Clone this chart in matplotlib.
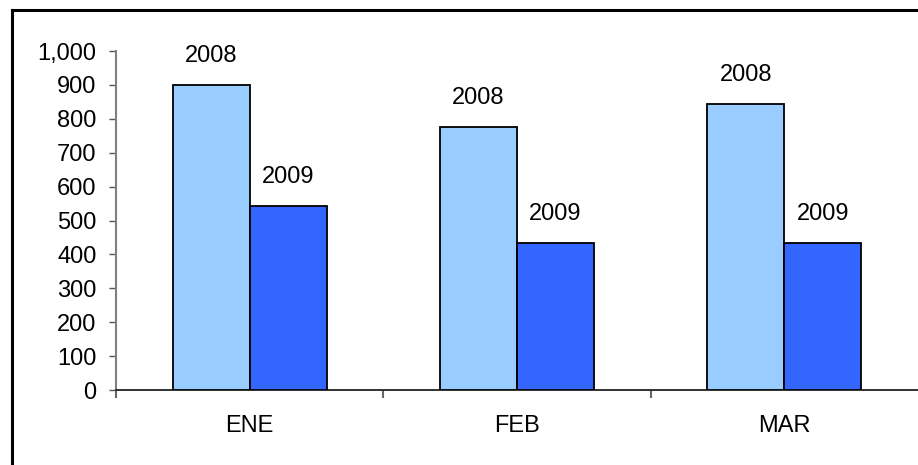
import matplotlib.pyplot as plt
import numpy as np
from matplotlib.lines import Line2D
from matplotlib.ticker import FuncFormatter

plt.rcParams['font.family'] = ['Liberation Sans', 'DejaVu Sans']

# datos
meses = ['ENE', 'FEB', 'MAR']
series = ['2008', '2009']
valores_2008 = [900, 775, 843]
valores_2009 = [543, 434, 434]

colores = {'2008': '#99CCFF', '2009': '#3366FF'}

# grafico
fig = plt.figure(figsize=(9.18, 4.65), dpi=100)
# el eje se prolonga un poco fuera del borde derecho (como en la imagen recortada)
ax = fig.add_axes([116 / 918, 1 - 390 / 465, (918 + 8 - 116) / 918, (390 - 51) / 465])
ax.patch.set_visible(False)

x = np.arange(len(meses))
ancho = 0.288

for i, (serie, vals) in enumerate(zip(series, [valores_2008, valores_2009])):
    offset = (i - 0.5) * ancho
    barras = ax.bar(x + offset, vals, width=ancho, color=colores[serie],
                    edgecolor='black', linewidth=1.3, zorder=3)
    for b in barras:
        ax.annotate(serie, (b.get_x() + b.get_width() / 2, b.get_height()),
                    xytext=(0, 13), textcoords='offset points',
                    ha='center', va='bottom', fontsize=17)

ax.set_xlim(-0.5, len(meses) - 0.5 + 8 / 267)
ax.set_ylim(0, 1000)
ax.set_yticks(range(0, 1001, 100))
ax.yaxis.set_major_formatter(FuncFormatter(lambda v, p: f'{v:,.0f}'))

# ticks del eje x en los limites de categoria, etiquetas en el centro
ax.set_xticks(np.arange(-0.5, len(meses) - 1, 1.0))
ax.set_xticklabels([])
ax.set_xticks(x, minor=True)
ax.set_xticklabels(meses, minor=True)
ax.tick_params(axis='x', which='major', length=6, width=1.5, color='#666666')
ax.tick_params(axis='x', which='minor', length=0, pad=18, labelsize=17)
ax.tick_params(axis='y', length=5, width=1, color='#555555', pad=9, labelsize=17)

for s in ['top', 'right']:
    ax.spines[s].set_visible(False)
ax.spines['left'].set_color('#808080')
ax.spines['left'].set_linewidth(1.5)
ax.spines['bottom'].set_color('#222222')
ax.spines['bottom'].set_linewidth(1.3)

# marco (solo bordes superior e izquierdo visibles)
fx = 12 / 918
fy = 1 - 10 / 465
fig.add_artist(Line2D([fx, 1], [fy, fy], transform=fig.transFigure, color='black', linewidth=2.2))
fig.add_artist(Line2D([fx, fx], [0, fy], transform=fig.transFigure, color='black', linewidth=2.2))

fig.savefig('out.png', dpi=100)
